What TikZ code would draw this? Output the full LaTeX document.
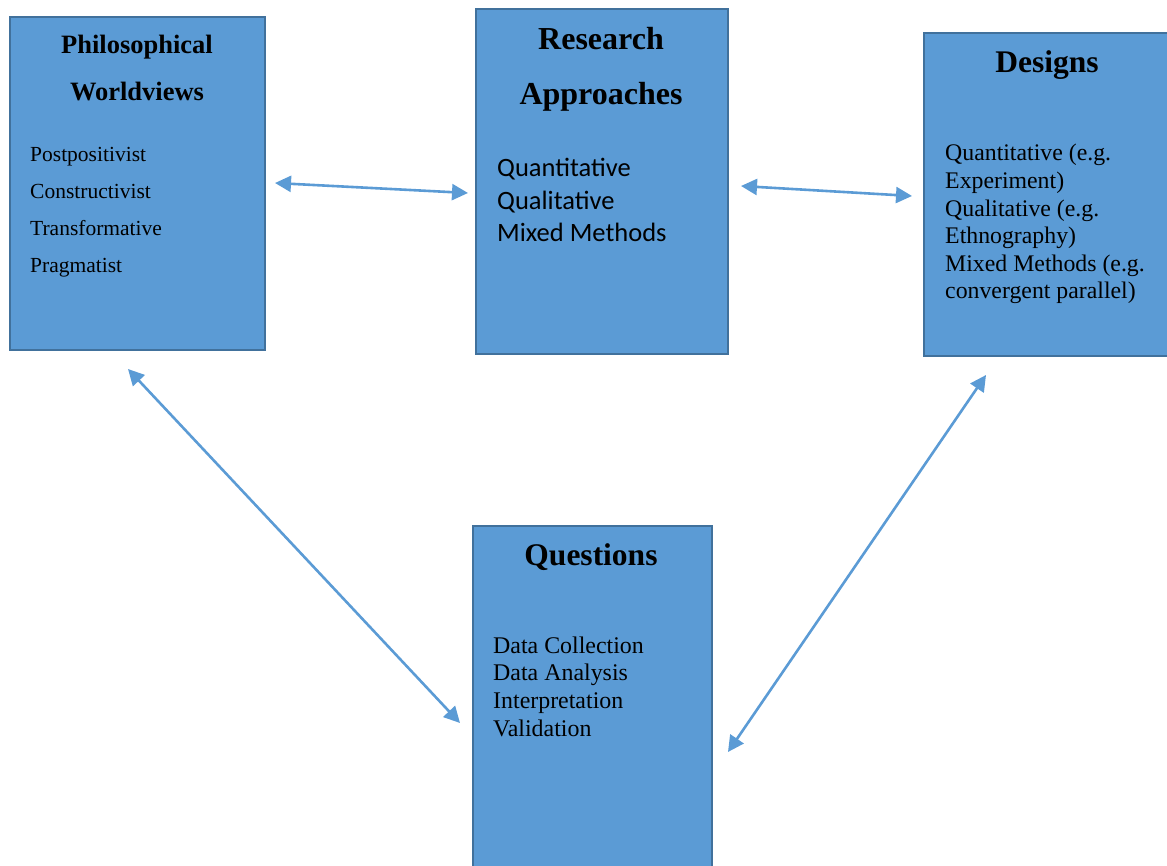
\documentclass[tikz,border=0pt]{standalone}
\usepackage{fontspec}
\setmainfont{Liberation Serif}
\newfontfamily\calib{Carlito}
\usetikzlibrary{arrows.meta}
\definecolor{boxfill}{HTML}{5B9BD5}
\definecolor{boxline}{HTML}{41719C}
\definecolor{arrowc}{HTML}{5B9BD5}
\tikzset{
  panel/.style={draw=boxline, fill=boxfill, line width=2.4pt, inner sep=0pt, anchor=north west},
  txt/.style={inner sep=0pt, text=black},
  link/.style={draw=arrowc, line width=2.6pt, {Triangle[length=16pt,width=16pt]}-{Triangle[length=16pt,width=16pt]}},
}
\newcommand\lines[4]{\parbox[t]{#1}{\fontsize{#2}{#3}\selectfont #4}}
\begin{document}
\begin{tikzpicture}[x=1pt,y=-1pt]
\useasboundingbox (0,0) rectangle (1167,866);
\clip (0,0) rectangle (1167,866);
% boxes
\node[panel, minimum width=255pt, minimum height=333pt] (pw) at (9,16) {};
\node[panel, minimum width=252pt, minimum height=345pt] (ra) at (475,8) {};
\node[panel, minimum width=262pt, minimum height=323pt] (ds) at (923,32) {};
\node[panel, minimum width=239pt, minimum height=362pt] (qs) at (472,525) {};
% titles
\node[txt, anchor=base] (pwt) at (137,54) {\lines{250pt}{26.5}{47}{\centering\bfseries Philosophical\\Worldviews}};
\node[txt, anchor=base] (rat) at (601,50) {\lines{250pt}{32}{55}{\centering\bfseries Research\\Approaches}};
\node[txt, anchor=base] (dst) at (1047,73) {\lines{200pt}{31.5}{40}{\centering\bfseries Designs}};
\node[txt, anchor=base] (qst) at (591,565) {\lines{230pt}{31.5}{40}{\centering\bfseries Questions}};
% bodies
\node[txt, anchor=base west] (pwb) at (30,162) {\lines{220pt}{21.5}{36.7}{Postpositivist\\Constructivist\\Transformative\\Pragmatist}};
\node[txt, anchor=base west] (rab) at (497,177) {\lines{220pt}{26.5}{32.5}{\calib Quantitative\\Qualitative\\Mixed Methods}};
\node[txt, anchor=base west] (dsb) at (945,161) {\lines{220pt}{23.8}{27.6}{Quantitative (e.g.\\Experiment)\\Qualitative (e.g.\\Ethnography)\\Mixed Methods (e.g.\\convergent parallel)}};
\node[txt, anchor=base west] (qsb) at (493,653) {\lines{220pt}{23.9}{27.7}{Data Collection\\Data Analysis\\Interpretation\\Validation}};
% connector ends
\coordinate (a1s) at (275,183);
\coordinate (a1e) at (468,193);
\coordinate (a2s) at (741,186);
\coordinate (a2e) at (912,196);
\coordinate (a3s) at (128,369);
\coordinate (a3e) at (460,723);
\coordinate (a4s) at (986,375);
\coordinate (a4e) at (728,752);
\draw[link] (a1s) -- (a1e);
\draw[link] (a2s) -- (a2e);
\draw[link] (a3s) -- (a3e);
\draw[link] (a4s) -- (a4e);
\end{tikzpicture}
\end{document}
